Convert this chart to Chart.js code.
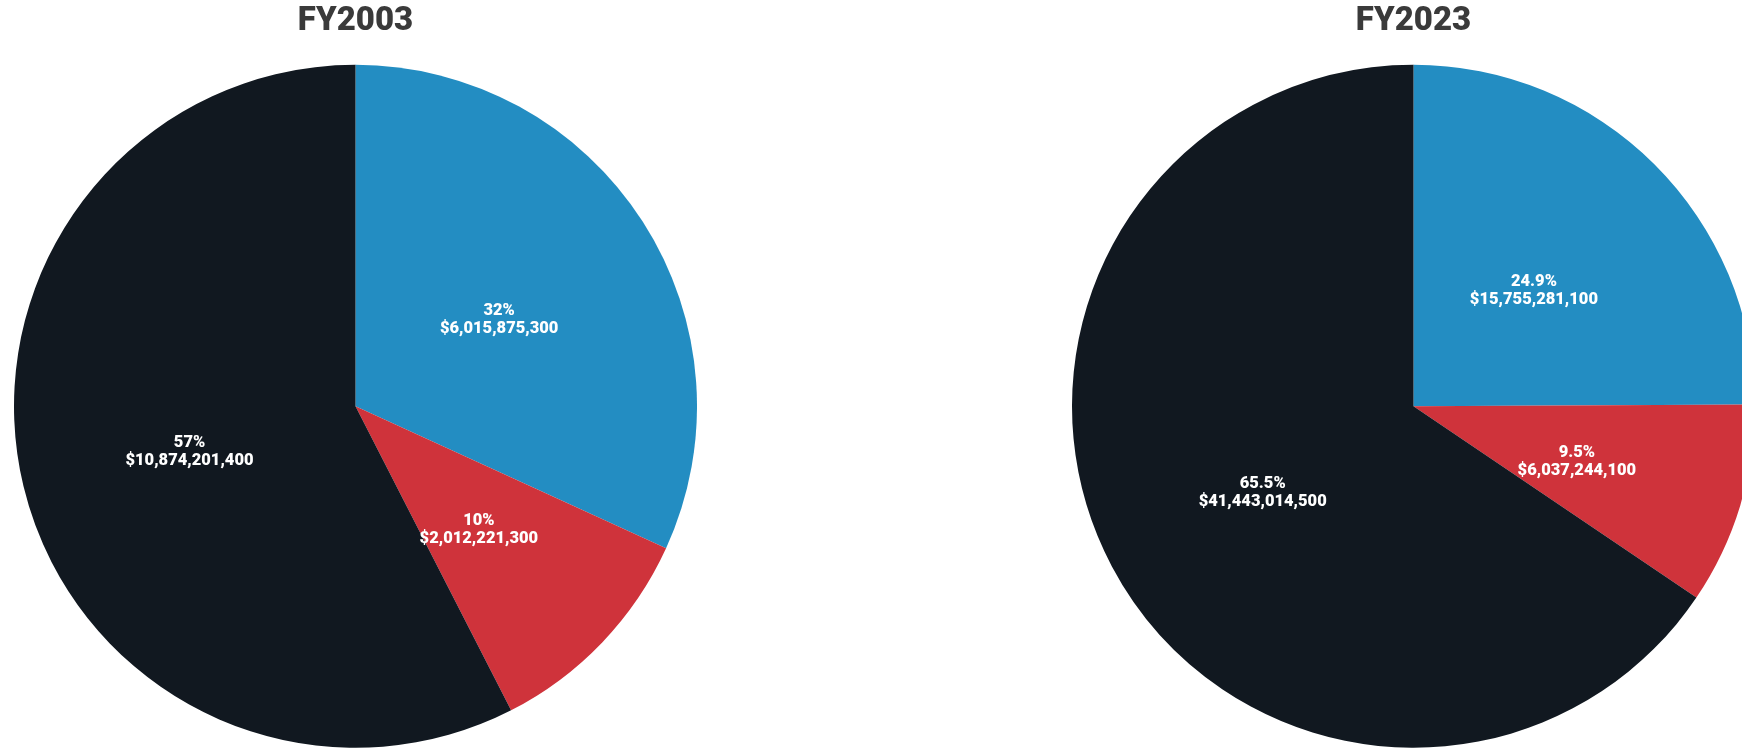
<!DOCTYPE html>
<html>
<head>
<meta charset="utf-8">
<script src="https://cdn.jsdelivr.net/npm/chart.js@4"></script>
<style>
  html, body { margin: 0; padding: 0; background: #fff; overflow: hidden; width: 1742px; height: 749px; }
  .pie { position: absolute; top: 0; width: 683px; height: 749px; }
</style>
</head>
<body>
<div class="pie" style="left:14px"><canvas id="pie2003" width="683" height="749"></canvas></div>
<div class="pie" style="left:1072px"><canvas id="pie2023" width="683" height="749"></canvas></div>
<script>
const categories = ['Segment A', 'Segment B', 'Segment C'];
const colors = ['#238dc2', '#cf333b', '#111820'];

const fy2003Values = [6015875300, 2012221300, 10874201400];
const fy2003Pct = ['32%', '10%', '57%'];

const fy2023Values = [15755281100, 6037244100, 41443014500];
const fy2023Pct = ['24.9%', '9.5%', '65.5%'];

// draws "pct" + "$value" in the middle of every slice
const sliceLabels = {
  id: 'sliceLabels',
  afterDatasetsDraw(chart, args, opts) {
    const ctx = chart.ctx;
    const meta = chart.getDatasetMeta(0);
    const values = chart.data.datasets[0].data;
    ctx.save();
    ctx.fillStyle = '#ffffff';
    ctx.font = '900 16.5px Roboto';
    ctx.textAlign = 'center';
    ctx.textBaseline = 'middle';
    meta.data.forEach((arc, i) => {
      const p = arc.tooltipPosition();
      ctx.fillText(opts.pct[i], p.x, p.y - 3);
      ctx.fillText('$' + values[i].toLocaleString('en-US'), p.x, p.y + 15);
    });
    ctx.restore();
  }
};

function makePie(id, title, values, pct) {
  new Chart(document.getElementById(id), {
    type: 'pie',
    data: {
      labels: categories,
      datasets: [{
        data: values,
        backgroundColor: colors,
        borderWidth: 0
      }]
    },
    options: {
      responsive: false,
      animation: false,
      layout: { padding: 0 },
      plugins: {
        legend: { display: false },
        tooltip: { enabled: false },
        title: {
          display: true,
          text: title,
          color: '#3a3a3a',
          font: { family: 'Roboto', size: 33, weight: '900', lineHeight: 1.2 },
          padding: { top: 2, bottom: 22 }
        },
        sliceLabels: { pct: pct }
      }
    },
    plugins: [sliceLabels]
  });
}

makePie('pie2003', 'FY2003', fy2003Values, fy2003Pct);
makePie('pie2023', 'FY2023', fy2023Values, fy2023Pct);
</script>
</body>
</html>
